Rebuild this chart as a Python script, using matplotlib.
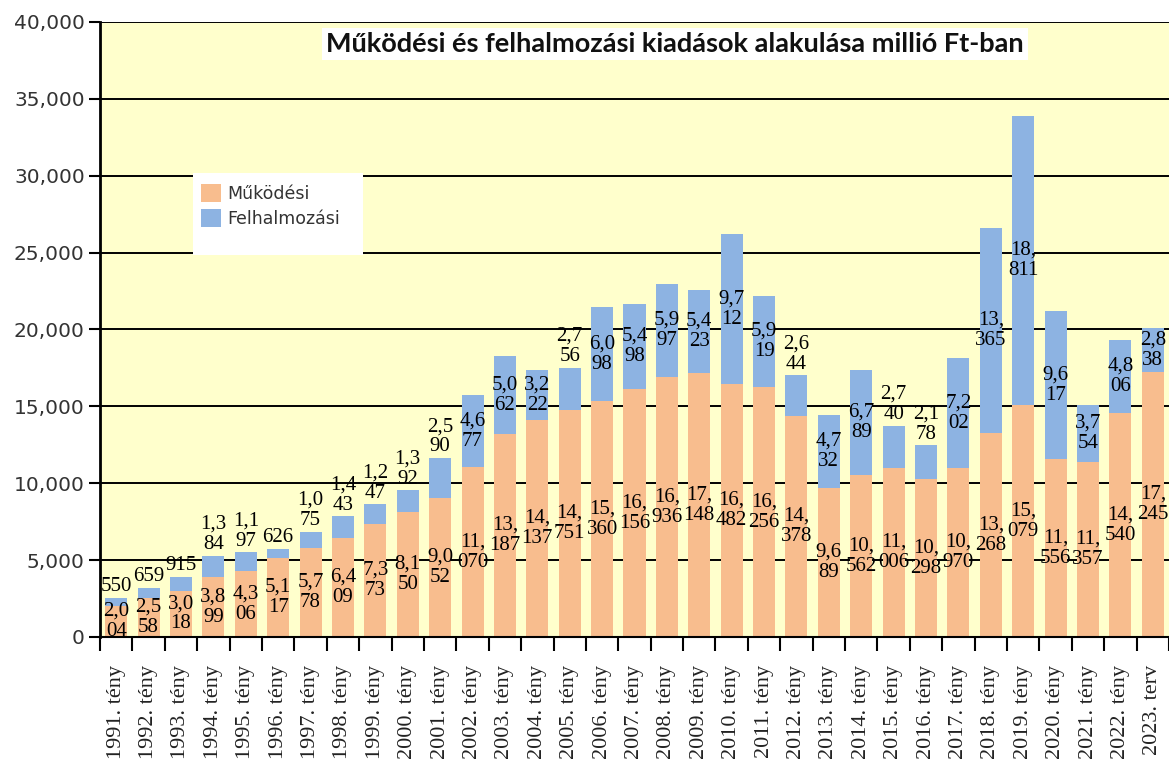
import matplotlib

matplotlib.use("Agg")
import matplotlib.pyplot as plt
from matplotlib.patches import Rectangle, Patch
from matplotlib.ticker import FuncFormatter, MultipleLocator, FixedLocator

# ── Adatok (millió Ft) ───────────────────────────────────────────────────────
years = [f"{y}. tény" for y in range(1991, 2023)] + ["2023. terv"]

mukodesi = [2004, 2558, 3018, 3899, 4306, 5117, 5778, 6409, 7373, 8150,
            9052, 11070, 13187, 14137, 14751, 15360, 16156, 16936, 17148, 16482,
            16256, 14378, 9689, 10562, 11006, 10298, 10970, 13268, 15079, 11556,
            11357, 14540, 17245]

felhalmozasi = [550, 659, 915, 1384, 1197, 626, 1075, 1443, 1247, 1392,
                2590, 4677, 5062, 3222, 2756, 6098, 5498, 5997, 5423, 9712,
                5919, 2644, 4732, 6789, 2740, 2178, 7202, 13365, 18811, 9617,
                3754, 4806, 2838]

C_MUK = "#F8BD8E"
C_FEL = "#8DB3E2"
BG = "#FFFFCC"


def split_label(v: int) -> str:
    """Excel-szerű tördelés: 3 karakterenként új sor."""
    s = f"{v:,}"
    return "\n".join(s[i:i + 3] for i in range(0, len(s), 3))


fig = plt.figure(figsize=(11.69, 7.64), dpi=100)
ax = fig.add_axes([100 / 1169, 127 / 764, 1 - 100 / 1169, (637 - 22) / 764])
ax.set_facecolor(BG)

x = list(range(len(years)))
ax.bar(x, mukodesi, width=0.68, color=C_MUK, zorder=2)
ax.bar(x, felhalmozasi, width=0.68, bottom=mukodesi, color=C_FEL, zorder=2)

ax.set_xlim(-0.5, len(years) - 0.5)
ax.set_ylim(0, 40000)

# rácsvonalak
ax.yaxis.set_major_locator(MultipleLocator(5000))
ax.grid(axis="y", color="black", linewidth=1.4, zorder=1)
ax.set_axisbelow(True)

# adatcímkék
lab_font = dict(family="Liberation Serif", fontsize=15, color="black",
                linespacing=1.1, ha="center", zorder=5)
for i, (m, f) in enumerate(zip(mukodesi, felhalmozasi)):
    ax.text(i, m / 2, split_label(m), va="center", **lab_font)
    if f >= 2800:
        ax.text(i, m + f / 2, split_label(f), va="center", **lab_font)
    else:
        ax.text(i, m + f + 100, split_label(f), va="bottom", **lab_font)

# tengelyek
for side in ("top", "right"):
    ax.spines[side].set_visible(False)
ax.spines["left"].set_linewidth(2)
ax.spines["bottom"].set_linewidth(1.5)

ax.yaxis.set_major_formatter(FuncFormatter(lambda v, p: f"{int(v):,}"))
ax.tick_params(axis="y", length=8, width=1.5, labelsize=14.5, labelcolor="#333333", pad=3)
for t in ax.get_yticklabels():
    t.set_family("DejaVu Sans")

ax.set_xticks(x)
ax.set_xticklabels(years, rotation=90, family="Liberation Serif", fontsize=16,
                   color="#222222", va="top")
ax.tick_params(axis="x", which="major", length=0, pad=20)
ax.xaxis.set_minor_locator(FixedLocator([i - 0.5 for i in range(len(years) + 1)]))
ax.tick_params(axis="x", which="minor", length=10, width=1.5)

# cím
fig.text(675 / 1169, 1 - 44 / 764,
         "Működési és felhalmozási kiadások alakulása millió Ft-ban",
         ha="center", va="center", fontsize=19.5, fontweight="bold",
         family="Lato", color="#111111",
         bbox=dict(facecolor="white", edgecolor="none", pad=3))

# jelmagyarázat fehér háttérrel
ax.add_patch(Rectangle(((193 - 100) / 1069, (637 - 255) / 615), 170 / 1069, 82 / 615,
                       transform=ax.transAxes, facecolor="white", edgecolor="none",
                       zorder=4))
handles = [Patch(facecolor=C_MUK, label="Működési"),
           Patch(facecolor=C_FEL, label="Felhalmozási")]
leg = ax.legend(handles=handles, loc="upper left",
                bbox_to_anchor=((191 - 100) / 1069, (637 - 174) / 615),
                frameon=False, fontsize=12.5, handlelength=1.1, handleheight=1.2,
                handletextpad=0.4, labelspacing=0.35, borderpad=0.1)
leg.set_zorder(6)
for t in leg.get_texts():
    t.set_color("#333333")

fig.savefig("out.png", dpi=100)
